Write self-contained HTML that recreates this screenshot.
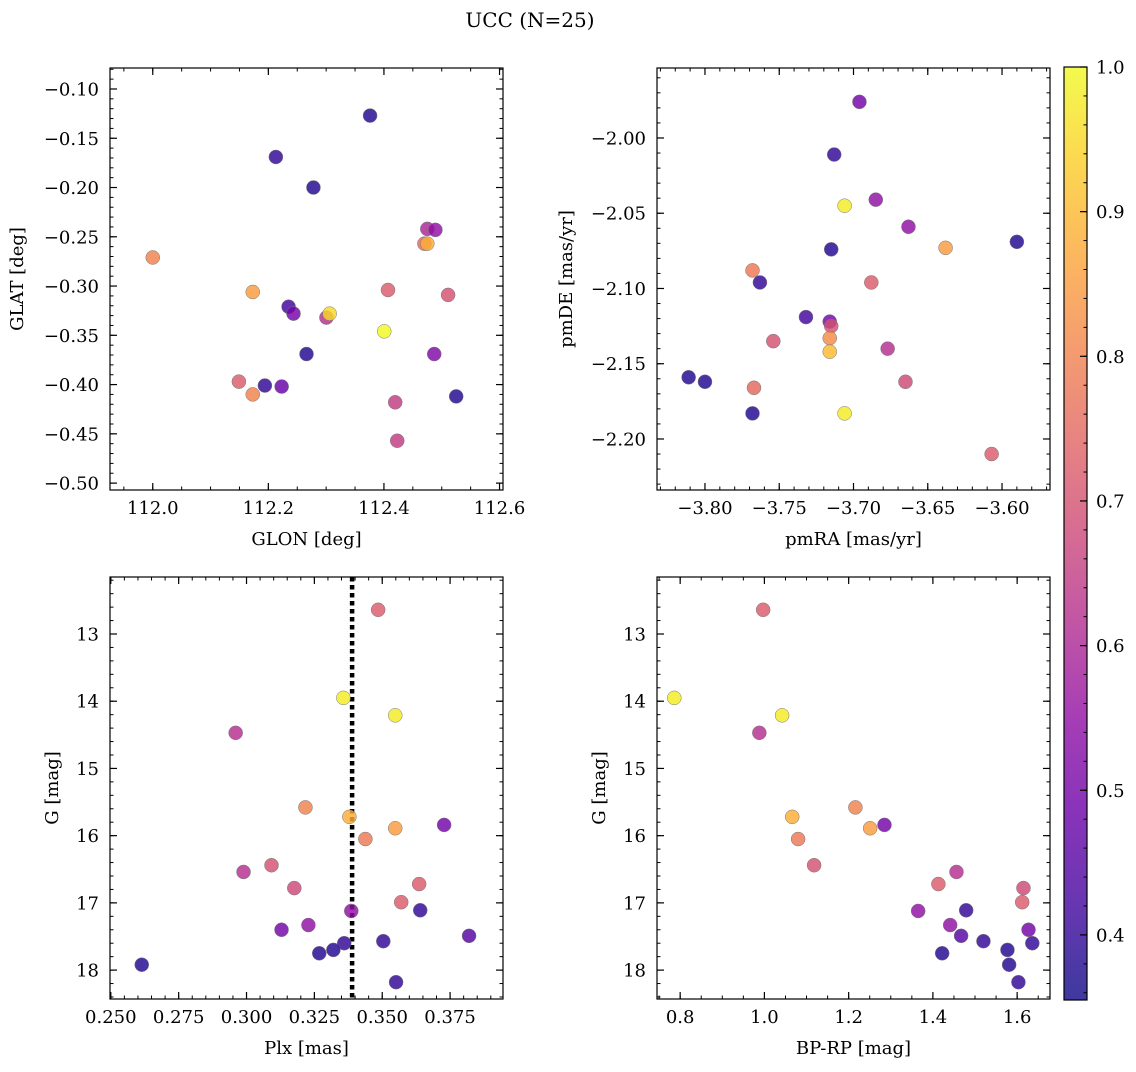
<!DOCTYPE html>
<html><head><meta charset="utf-8">
<style>
html,body{margin:0;padding:0;background:#fff;}
svg text{font-family:"DejaVu Serif","Liberation Serif",serif;fill:#000;}
</style></head>
<body>
<svg id="fig" width="1136" height="1067" xmlns="http://www.w3.org/2000/svg">
<text x="530" y="27" font-size="20" text-anchor="middle">UCC (N=25)</text>
</svg>
<script>
// ---- data ----
const colorVals = [0.72,0.98,0.98,0.62,0.8,0.88,0.85,0.5,0.78,0.7,0.62,0.72,0.68,0.72,0.4,0.55,0.55,0.5,0.45,0.4,0.4,0.38,0.38,0.38,0.4];
const plx = [0.3485,0.3357,0.3548,0.296,0.3217,0.3379,0.3548,0.3728,0.3438,0.3092,0.2989,0.3636,0.3176,0.357,0.364,0.3386,0.3228,0.3129,0.382,0.3504,0.336,0.332,0.3268,0.2614,0.3551];
const gmag = [12.64,13.95,14.21,14.47,15.58,15.72,15.89,15.84,16.05,16.44,16.54,16.72,16.78,16.99,17.11,17.12,17.33,17.40,17.49,17.57,17.60,17.70,17.75,17.92,18.18];
const bprp = [0.997,0.786,1.042,0.988,1.216,1.066,1.251,1.285,1.080,1.118,1.456,1.413,1.615,1.612,1.479,1.365,1.441,1.627,1.467,1.52,1.636,1.577,1.422,1.581,1.603];
const glon = [112.376,112.213,112.278,112.000,112.173,112.235,112.2435,112.3005,112.306,112.4005,112.407,112.475,112.489,112.470,112.475,112.511,112.266,112.487,112.149,112.194,112.223,112.173,112.4195,112.525,112.423];
const glat = [-0.127,-0.169,-0.200,-0.271,-0.306,-0.321,-0.328,-0.332,-0.328,-0.346,-0.304,-0.242,-0.243,-0.257,-0.257,-0.309,-0.369,-0.369,-0.397,-0.401,-0.402,-0.410,-0.418,-0.412,-0.457];
const glColor = [0.38,0.4,0.38,0.8,0.85,0.42,0.5,0.62,0.95,1.0,0.72,0.6,0.55,0.75,0.88,0.7,0.38,0.52,0.72,0.4,0.48,0.8,0.65,0.38,0.65];
const pmra = [-3.696,-3.713,-3.706,-3.685,-3.663,-3.638,-3.590,-3.715,-3.768,-3.763,-3.688,-3.732,-3.716,-3.715,-3.716,-3.716,-3.754,-3.677,-3.811,-3.800,-3.665,-3.767,-3.768,-3.706,-3.607];
const pmde = [-1.976,-2.011,-2.045,-2.041,-2.059,-2.073,-2.069,-2.074,-2.088,-2.096,-2.096,-2.119,-2.122,-2.125,-2.133,-2.142,-2.135,-2.140,-2.159,-2.162,-2.162,-2.166,-2.183,-2.183,-2.210];
const pmColor = [0.5,0.4,0.98,0.55,0.55,0.85,0.38,0.38,0.78,0.4,0.72,0.42,0.5,0.7,0.82,0.9,0.7,0.62,0.38,0.38,0.68,0.75,0.38,0.98,0.72];
const plxLine = 0.3389;
const tlXTicks = [112.0,112.2,112.4,112.6];
const tlXLabels = ["112.0","112.2","112.4","112.6"];
const tlYTicks = [-0.10,-0.15,-0.20,-0.25,-0.30,-0.35,-0.40,-0.45,-0.50];
const tlYLabels = ["−0.10","−0.15","−0.20","−0.25","−0.30","−0.35","−0.40","−0.45","−0.50"];
const trXTicks = [-3.80,-3.75,-3.70,-3.65,-3.60];
const trXLabels = ["−3.80","−3.75","−3.70","−3.65","−3.60"];
const trYTicks = [-2.00,-2.05,-2.10,-2.15,-2.20];
const trYLabels = ["−2.00","−2.05","−2.10","−2.15","−2.20"];
const blXTicks = [0.250,0.275,0.300,0.325,0.350,0.375];
const blXLabels = ["0.250","0.275","0.300","0.325","0.350","0.375"];
const gTicks = [13,14,15,16,17,18];
const gLabels = ["13","14","15","16","17","18"];
const brXTicks = [0.8,1.0,1.2,1.4,1.6];
const brXLabels = ["0.8","1.0","1.2","1.4","1.6"];
const cbTicks = [0.4,0.5,0.6,0.7,0.8,0.9,1.0];
const cbLabels = ["0.4","0.5","0.6","0.7","0.8","0.9","1.0"];

const NS="http://www.w3.org/2000/svg";
const svg=document.getElementById('fig');
const FS=18;
function mk(tag,attrs,parent){const e=document.createElementNS(NS,tag);for(const k in attrs)e.setAttribute(k,attrs[k]);(parent||svg).appendChild(e);return e;}
const plasma=[[0,[13,8,135]],[0.1,[65,4,157]],[0.2,[106,0,168]],[0.3,[143,13,164]],[0.4,[177,42,144]],[0.5,[204,71,120]],[0.6,[225,100,98]],[0.7,[242,132,75]],[0.8,[252,166,54]],[0.9,[252,206,37]],[1.0,[240,249,33]]];
const CMIN=0.355,CMAX=1.0;
function cmap(v){let t=(v-CMIN)/(CMAX-CMIN);t=Math.max(0,Math.min(1,t));for(let i=0;i<plasma.length-1;i++){const a=plasma[i],b=plasma[i+1];if(t<=b[0]){const f=(t-a[0])/(b[0]-a[0]);const c=a[1].map((x,j)=>Math.round(x+(b[1][j]-x)*f));return `rgb(${c[0]},${c[1]},${c[2]})`;}}return 'rgb(240,249,33)';}

function panel(cfg){
  const {name,x0,x1,y0,y1,xmin,xmax,ymin,ymax}=cfg;
  const sx=v=>x0+(v-xmin)/(xmax-xmin)*(x1-x0);
  const sy=v=>y1-(v-ymin)/(ymax-ymin)*(y1-y0);
  const g=mk('g',{});
  
  
  const minor=(lo,hi,step,fn)=>{const s=Math.ceil(lo/step-1e-9);for(let k=s;k*step<=hi+1e-9;k++)fn(k*step);};
  minor(Math.min(xmin,xmax),Math.max(xmin,xmax),cfg.xminor,v=>{const x=sx(v);mk('line',{x1:x,x2:x,y1:y1,y2:y1-3.5,stroke:'#000','stroke-width':1},g);mk('line',{x1:x,x2:x,y1:y0,y2:y0+3.5,stroke:'#000','stroke-width':1},g);});
  minor(Math.min(ymin,ymax),Math.max(ymin,ymax),cfg.yminor,v=>{const y=sy(v);mk('line',{x1:x0,x2:x0+3.5,y1:y,y2:y,stroke:'#000','stroke-width':1},g);mk('line',{x1:x1,x2:x1-3.5,y1:y,y2:y,stroke:'#000','stroke-width':1},g);});
  cfg.xt.forEach((v,i)=>{const x=sx(v);mk('line',{x1:x,x2:x,y1:y1,y2:y1-7,stroke:'#000','stroke-width':1.2},g);mk('line',{x1:x,x2:x,y1:y0,y2:y0+7,stroke:'#000','stroke-width':1.2},g);
    const t=mk('text',{x:x,y:y1+24,'font-size':FS,'text-anchor':'middle'},g);t.textContent=cfg.xl[i];});
  cfg.yt.forEach((v,i)=>{const y=sy(v);mk('line',{x1:x0,x2:x0+7,y1:y,y2:y,stroke:'#000','stroke-width':1.2},g);mk('line',{x1:x1,x2:x1-7,y1:y,y2:y,stroke:'#000','stroke-width':1.2},g);
    const t=mk('text',{x:x0-11,y:y+6.5,'font-size':FS,'text-anchor':'end'},g);t.textContent=cfg.yl[i];});
  if(cfg.vline!==undefined){const l=mk('line',{x1:sx(cfg.vline),x2:sx(cfg.vline),y1:y0,y2:y1,stroke:'#000','stroke-width':4.5,'stroke-dasharray':'4.5,3.5'},g);}
  cfg.xs.forEach((v,i)=>{const c=mk('circle',{cx:sx(v),cy:sy(cfg.ys[i]),r:7,fill:cmap(cfg.cs[i]),'fill-opacity':0.82,stroke:'#777','stroke-width':0.5},g);});
  const fr=mk('rect',{x:x0,y:y0,width:x1-x0,height:y1-y0,fill:'none',stroke:'#000','stroke-width':1.2},g);
  
  const xl=mk('text',{x:(x0+x1)/2,y:y1+55,'font-size':FS,'text-anchor':'middle'},g);xl.textContent=cfg.xlabel;
  
  const yx=cfg.ylx,yy=(y0+y1)/2;
  const yl=mk('text',{x:yx,y:yy,'font-size':FS,'text-anchor':'middle',transform:`rotate(-90 ${yx} ${yy})`},g);yl.textContent=cfg.ylabel;
  
}
panel({name:'glon-glat-panel',x0:110,x1:503,y0:68,y1:490,xmin:111.926,xmax:112.606,ymin:-0.507,ymax:-0.0787,xminor:0.05,yminor:0.01,xt:tlXTicks,xl:tlXLabels,yt:tlYTicks,yl:tlYLabels,xs:glon,ys:glat,cs:glColor,xlabel:'GLON [deg]',ylabel:'GLAT [deg]',ylx:23});
panel({name:'pm-panel',x0:657,x1:1050,y0:68,y1:490,xmin:-3.8323,xmax:-3.5677,ymin:-2.2339,ymax:-1.9535,xminor:0.01,yminor:0.01,xt:trXTicks,xl:trXLabels,yt:trYTicks,yl:trYLabels,xs:pmra,ys:pmde,cs:pmColor,xlabel:'pmRA [mas/yr]',ylabel:'pmDE [mas/yr]',ylx:572});
panel({name:'plx-g-panel',x0:110,x1:503,y0:577,y1:999,xmin:0.2497,xmax:0.3945,ymin:18.43,ymax:12.152,xminor:0.005,yminor:0.2,xt:blXTicks,xl:blXLabels,yt:gTicks,yl:gLabels,xs:plx,ys:gmag,cs:colorVals,xlabel:'Plx [mas]',ylabel:'G [mag]',ylx:58,vline:plxLine});
panel({name:'cmd-panel',x0:657,x1:1050,y0:577,y1:999,xmin:0.745,xmax:1.678,ymin:18.43,ymax:12.152,xminor:0.05,yminor:0.2,xt:brXTicks,xl:brXLabels,yt:gTicks,yl:gLabels,xs:bprp,ys:gmag,cs:colorVals,xlabel:'BP-RP [mag]',ylabel:'G [mag]',ylx:605});

// colorbar
const cb=mk('g',{});


const defs=mk('defs',{},cb);
const lg=mk('linearGradient',{id:'pg',x1:0,y1:1,x2:0,y2:0},defs);
plasma.forEach(s=>{mk('stop',{offset:s[0],'stop-color':`rgb(${s[1].join(',')})`},lg);});
const cbx0=1064,cbx1=1087,cby0=67,cby1=1000;
mk('rect',{x:cbx0,y:cby0,width:cbx1-cbx0,height:cby1-cby0,fill:'url(#pg)','fill-opacity':0.8},cb);
mk('rect',{x:cbx0,y:cby0,width:cbx1-cbx0,height:cby1-cby0,fill:'none',stroke:'#000','stroke-width':1.2},cb);
const cy=v=>cby1-(v-CMIN)/(CMAX-CMIN)*(cby1-cby0);
for(let k=18;k<=50;k++){const v=k*0.02;if(v<CMIN)continue;const y=cy(v);mk('line',{x1:cbx1,x2:cbx1-3.5,y1:y,y2:y,stroke:'#000','stroke-width':1},cb);}
cbTicks.forEach((v,i)=>{const y=cy(v);mk('line',{x1:cbx1,x2:cbx1-7,y1:y,y2:y,stroke:'#000','stroke-width':1.2},cb);
  const t=mk('text',{x:cbx1+9,y:y+6.5,'font-size':FS},cb);t.textContent=cbLabels[i];});
</script>
</body></html>
